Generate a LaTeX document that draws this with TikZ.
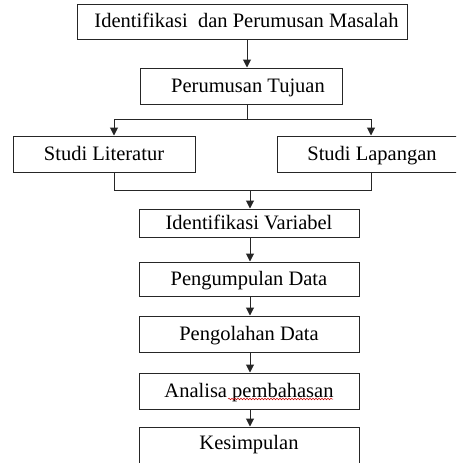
\documentclass[tikz,border=0pt]{standalone}
\usepackage{fontspec}
\setmainfont{Liberation Serif}
\usetikzlibrary{arrows.meta,decorations.pathmorphing}
\begin{document}
\begin{tikzpicture}[x=1pt,y=-1pt,
  box/.style={draw=black!85,line width=1pt,rectangle,inner sep=0pt,
    text height=16pt,text depth=4pt,
    font=\fontsize{20.5}{24}\selectfont},
  link/.style={draw=black!85,line width=1pt},
  arr/.style={link,-{Triangle[width=8pt,length=8pt]}}]
\useasboundingbox (0,0) rectangle (456,463);
\clip (0,0) rectangle (456,463);
\fill[white] (0,0) rectangle (456,463);
% boxes
\node[box,minimum width=330,minimum height=35] (b1) at (242,21.5) {\hspace{9pt}Identifikasi\ \ dan Perumusan Masalah};
\node[box,minimum width=202,minimum height=36] (b2) at (241,86) {\hspace{14pt}Perumusan Tujuan};
\node[box,minimum width=182,minimum height=36] (b3) at (104,154) {Studi Literatur\hspace{4pt}};
\node[box,minimum width=190,minimum height=36] (b4) at (372,154) {Studi Lapangan};
\node[box,minimum width=220,minimum height=28] (b5) at (249,223) {Identifikasi Variabel};
\node[box,minimum width=220,minimum height=34] (b6) at (249,279) {Pengumpulan Data};
\node[box,minimum width=220,minimum height=36] (b7) at (249,334) {Pengolahan Data};
\node[box,minimum width=220,minimum height=36] (b8) at (249,391) {Analisa pembahasan};
\node[box,minimum width=220,text height=22pt,text depth=21pt] (b9) at (249,448.5) {Kesimpulan};
% helper coordinates
\coordinate (xa) at (247,0);
\coordinate (xl) at (114,0);
\coordinate (xr) at (371,0);
\coordinate (xm) at (250,0);
\coordinate (split) at (247,119);
\coordinate (sl) at (114,119);
\coordinate (sr) at (371,119);
\coordinate (jl) at (114,190);
\coordinate (jr) at (371,190);
\coordinate (jm) at (250,190);
% connectors
\draw[arr] (b1.south -| xa) -- (b2.north -| xa);
\draw[link] (b2.south -| xa) -- (split);
\draw[link] (sl) -- (sr);
\draw[arr] (sl) -- (b3.north -| xl);
\draw[arr] (sr) -- (b4.north -| xr);
\draw[link] (b3.south -| xl) -- (jl) -- (jr) -- (b4.south -| xr);
\draw[arr] (jm) -- (b5.north -| xm);
\draw[arr] (b5.south -| xm) -- (b6.north -| xm);
\draw[arr] (b6.south -| xm) -- (b7.north -| xm);
\draw[arr] (b7.south -| xm) -- (b8.north -| xm);
\draw[arr] (b8.south -| xm) -- (b9.north -| xm);
% spell-check underline
\coordinate (u1) at (228,399);
\coordinate (u2) at (333,399);
\draw[red!80!black,line width=0.5pt,decorate,decoration={snake,amplitude=0.8pt,segment length=3pt}] (u1) -- (u2);
\end{tikzpicture}
\end{document}
